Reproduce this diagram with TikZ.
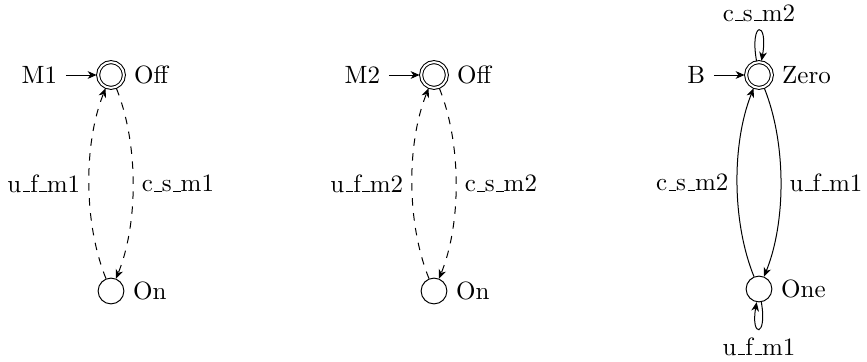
\documentclass[tikz,border=0pt]{standalone}
\usetikzlibrary{automata,arrows.meta}
\newcommand\usc{\leavevmode\kern.06em\vbox{\hrule width.3em}}
\begin{document}
\begin{tikzpicture}[x=0.4pt,y=0.4pt,>={Stealth[length=3.6pt,width=3.1pt,inset=1.1pt]},
  every state/.style={minimum size=10.3pt,inner sep=0pt},
  accepting by double/.style={double,double distance=0.8pt,outer sep=0.6pt},
  every loop/.style={min distance=16.5pt},
  trans/.style={->,bend left=22,looseness=0.8},
  dtrans/.style={trans,dashed},
  lbl/.style={auto}]
\useasboundingbox (0,0) rectangle (867,361);
% machine 1
\node[state,initial,accepting,initial text=M1,initial distance=12.3pt,label=right:Off] (off1) at (111,286) {};
\node[state,label=right:On] (on1) at (111,70) {};
\path (off1) edge[dtrans] node[lbl] (l1a) {c\usc s\usc m1} (on1)
      (on1) edge[dtrans] node[lbl] (l1b) {u\usc f\usc m1} (off1);
% machine 2
\node[state,initial,accepting,initial text=M2,initial distance=12.3pt,label=right:Off] (off2) at (434,286) {};
\node[state,label=right:On] (on2) at (434,70) {};
\path (off2) edge[dtrans] node[lbl] (l2a) {c\usc s\usc m2} (on2)
      (on2) edge[dtrans] node[lbl] (l2b) {u\usc f\usc m2} (off2);
% machine 3
\node[state,initial,accepting,initial text=B,initial distance=12.3pt,label=right:Zero] (zero) at (759,286) {};
\node[state,label=right:One] (one) at (759,72) {};
\path (zero) edge[trans] node[lbl] (l3a) {u\usc f\usc m1} (one)
      (one) edge[trans] node[lbl] (l3b) {c\usc s\usc m2} (zero);
\path (zero) edge[->,out=100,in=80,loop,above] node (l3c) {c\usc s\usc m2} ();
\path (one) edge[->,out=280,in=260,loop,below,every loop/.style={min distance=14.5pt}] node (l3d) {u\usc f\usc m1} ();
\end{tikzpicture}
\end{document}
